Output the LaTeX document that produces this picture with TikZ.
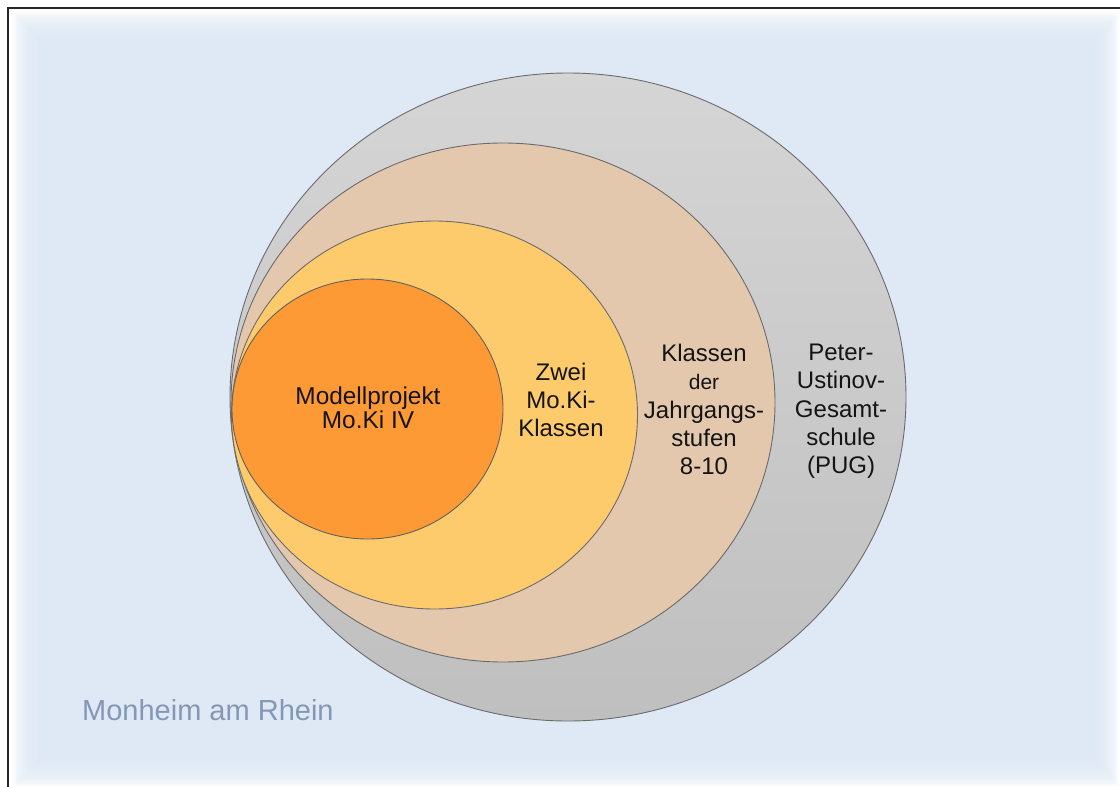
\documentclass[tikz,border=0pt]{standalone}
\usepackage{fontspec}
\setmainfont{Liberation Sans}
\begin{document}
\begin{tikzpicture}[x=1pt,y=-1pt,
  ring/.style={draw=black!58, line width=0.9pt},
  lbl/.style={align=center, inner sep=0pt, text=black!92, font=\fontsize{24}{28.3}\selectfont},
]
\definecolor{bgblue}{HTML}{DEE9F5}
\definecolor{graytop}{HTML}{D5D5D5}
\definecolor{graybot}{HTML}{BFBFBF}
\definecolor{tanfill}{HTML}{E3C8AE}
\definecolor{yelfill}{HTML}{FECB6C}
\definecolor{orafill}{HTML}{FE9A35}
\definecolor{cityblue}{HTML}{8498B6}
\useasboundingbox (0,0) rectangle (1120,787);
\fill[white] (0,0) rectangle (1120,787);
% soft background panel
\foreach \i in {0,...,15}{
  \fill[bgblue, opacity=0.2] ({13+\i*2.5},{13+\i*2.3}) rectangle ({1118-\i*2.1},{786-\i*2.45});
}
\fill[bgblue] (53,50) rectangle (1085,747);
% frame
\draw[line width=1.4pt, black!85] (8,790) -- (8,8) -- (1122,8);
% nested ellipses
\shade[top color=graytop, bottom color=graybot] (568,397) ellipse [x radius=338pt, y radius=324pt];
\draw[ring] (568,397) ellipse [x radius=338pt, y radius=324pt];
\draw[ring, fill=tanfill] (503,402.5) ellipse [x radius=272pt, y radius=259.5pt];
\draw[ring, fill=yelfill] (434.5,415) ellipse [x radius=203pt, y radius=194pt];
\draw[ring, draw=black!62, fill=orafill] (367.5,409) ellipse [x radius=135.5pt, y radius=130pt];
% labels
\node[lbl, font=\fontsize{24.4}{24.5}\selectfont] (modell) at (368,408) {Modellprojekt\\Mo.Ki IV};
\node[lbl] (zwei) at (561,400) {Zwei\\Mo.Ki-\\Klassen};
\node[lbl] (klassen) at (704,409.5) {Klassen\\{\fontsize{21}{28.3}\selectfont der}\\Jahrgangs-\\stufen\\8-10};
\node[lbl] (peter) at (841,411.5) {Peter-\\Ustinov-\\Gesamt-\\schule\\(PUG)};
\node[anchor=base west, inner sep=0pt, text=cityblue, font=\fontsize{29}{32}\selectfont] (city) at (82,720) {Monheim am Rhein};
\end{tikzpicture}
\end{document}
